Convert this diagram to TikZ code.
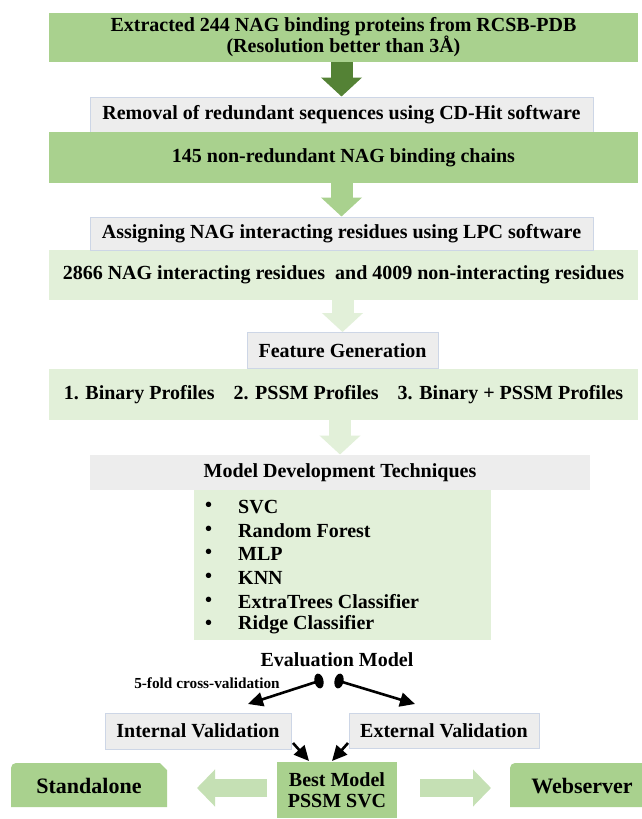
\documentclass[tikz,border=0pt]{standalone}
\usepackage{fontspec}
\setmainfont{Liberation Serif}
\usetikzlibrary{arrows.meta}
\definecolor{gmid}{HTML}{A9D18E}
\definecolor{gdark}{HTML}{548235}
\definecolor{glight}{HTML}{E2F0D9}
\definecolor{gpale}{HTML}{C5E0B4}
\definecolor{grayfill}{HTML}{EDEDED}
\definecolor{grayline}{HTML}{CDD6E6}
\tikzset{
  boxbase/.style={inner sep=0pt, font=\fontsize{20}{21}\selectfont\bfseries, align=center},
  greenbox/.style={boxbase, fill=gmid},
  lightbox/.style={boxbase, fill=glight},
  graybox/.style={boxbase, fill=grayfill, draw=grayline, line width=1pt},
  blockdown/.style={line width=22pt, -{Triangle[length=19pt,width=40pt]}},
  blockside/.style={gpale, line width=18pt, -{Triangle[length=18pt,width=36pt]}},
  evalarrow/.style={line width=2.6pt, -{Triangle[length=15pt,width=14pt]}},
  itemtext/.style={anchor=west, inner sep=0pt, font=\fontsize{20}{21}\selectfont\bfseries},
  bigtext/.style={font=\fontsize{22}{24}\selectfont\bfseries, inner sep=0pt},
}
\begin{document}
\begin{tikzpicture}[x=1pt,y=-1pt]
\useasboundingbox (0,0) rectangle (642,819);
\fill[white] (0,0) rectangle (642,819);

% top chain
\node[greenbox, minimum width=589pt, minimum height=49pt] (b1) at (343.5,37.5)
  {Extracted 244 NAG binding proteins from RCSB-PDB\\(Resolution better than 3Å)};
\node[graybox, minimum width=503pt, minimum height=35pt] (b2) at (341.5,114.5)
  {Removal of redundant sequences using CD-Hit software};
\node[greenbox, minimum width=589pt, minimum height=51pt] (b3) at (343.5,157.5)
  {145 non-redundant NAG binding chains};
\node[lightbox, minimum width=589pt, minimum height=50pt] (b5) at (343.5,275)
  {2866 NAG interacting residues\ \ and 4009 non-interacting residues};
\node[graybox, minimum width=503pt, minimum height=33pt] (b4) at (341.5,233.5)
  {Assigning NAG interacting residues using LPC software};
\node[lightbox, minimum width=589pt, minimum height=51pt] (b7) at (343.5,394.5)
  {1. Binary Profiles\hspace{0.7em} 2. PSSM Profiles\hspace{0.7em} 3. Binary + PSSM Profiles};
\node[graybox, minimum width=191pt, minimum height=36pt] (b6) at (342.5,350.5)
  {Feature Generation};
\node[lightbox, minimum width=297pt, minimum height=150pt] (b9) at (342.5,565) {};
\node[graybox, draw=none, minimum width=500pt, minimum height=35pt] (b8) at (340,472.5)
  {Model Development Techniques};

% block arrows
\draw[gdark, blockdown] (b2.north |- b1.south) -- (b2.north);
\draw[gmid, blockdown] (b4.north |- b3.south) -- (b4.north);
\draw[glight, blockdown] (b6.north |- b5.south) -- (b6.north);
\draw[glight, blockdown] (b8.north |- b7.south) -- (b8.north);

% list
\foreach \t/\y [count=\i] in {SVC/507, Random Forest/530.5, MLP/554, KNN/578, ExtraTrees Classifier/602, Ridge Classifier/625}{
  \node[itemtext] (bul\i) at (205,\y) {•};
  \node[itemtext] (it\i) at (238,\y) {\t};
}

% evaluation
\node[font=\fontsize{20}{21}\selectfont\bfseries, inner sep=0pt] (ev) at (337,660) {Evaluation Model};
\node[font=\fontsize{15.3}{16}\selectfont\bfseries, inner sep=0pt] (cv) at (207,683) {5-fold cross-validation};
\coordinate (eL) at (319,681);
\coordinate (eR) at (339,681);
\fill[rotate around={12:(eL)}] (eL) ellipse [x radius=4.5pt, y radius=7.5pt];
\fill[rotate around={-12:(eR)}] (eR) ellipse [x radius=4.5pt, y radius=7.5pt];
\coordinate (tL) at (248,704);
\coordinate (tR) at (415,704);
\draw[evalarrow] (eL) -- (tL);
\draw[evalarrow] (eR) -- (tR);

\node[graybox, minimum width=186pt, minimum height=36pt] (iv) at (198,731) {Internal Validation};
\node[graybox, minimum width=190pt, minimum height=35pt] (xv) at (444,730.5) {External Validation};

\node[greenbox, minimum width=120pt, minimum height=56pt] (best) at (337,790)
  {Best Model\\PSSM SVC};
\coordinate (iv1) at (293,743);
\coordinate (xv1) at (348,743);
\coordinate (bi) at (309,761);
\coordinate (bx) at (332,761);
\draw[evalarrow] (iv1) -- (bi);
\draw[evalarrow] (xv1) -- (bx);

% standalone and webserver
\fill[gmid] (11,807) [rounded corners=5pt] -- (11,763) [sharp corners] -- (160,763) -- (167,770) -- (167,807) -- cycle;
\node[bigtext] (sa) at (89,786) {Standalone};
\fill[gmid] (642,807) -- (642,763) [rounded corners=5pt] -- (510,763) [sharp corners] -- (510,807) -- cycle;
\node[bigtext] (ws) at (582,786) {Webserver};

\coordinate (la1) at (267,788);
\coordinate (la2) at (197,788);
\coordinate (ra1) at (420,788);
\coordinate (ra2) at (491,788);
\draw[blockside] (la1) -- (la2);
\draw[blockside] (ra1) -- (ra2);
\end{tikzpicture}
\end{document}
